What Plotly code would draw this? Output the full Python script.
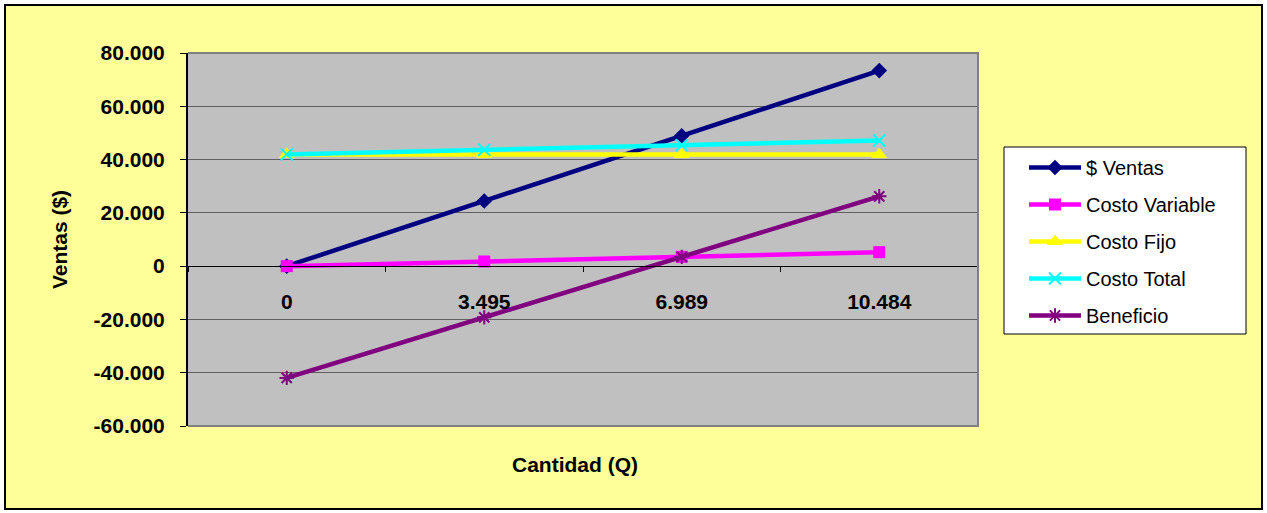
import plotly.graph_objects as go

# ---- data ----
categories = ["0", "3.495", "6.989", "10.484"]
ventas = [0, 24465, 48923, 73388]
costo_variable = [0, 1747, 3494, 5242]
costo_fijo = [41940, 41940, 41940, 41940]
costo_total = [41940, 43687, 45434, 47182]
beneficio = [-41940, -19222, 3489, 26206]

y_tick_vals = [-60000, -40000, -20000, 0, 20000, 40000, 60000, 80000]
y_tick_text = ["-60.000", "-40.000", "-20.000", "0", "20.000", "40.000", "60.000", "80.000"]

series = [
    ("$ Ventas", ventas, "#000080", "diamond", 12),
    ("Costo Variable", costo_variable, "#FF00FF", "square", 12),
    ("Costo Fijo", costo_fijo, "#FFFF00", "triangle-up", 14),
    ("Costo Total", costo_total, "#00FFFF", "x-thin-open", 12),
    ("Beneficio", beneficio, "#800080", "asterisk-open", 12),
]

FONT = "Liberation Sans, Arial, sans-serif"

fig = go.Figure()
for i, (name, vals, color, sym, msize) in enumerate(series):
    marker = dict(symbol=sym, size=msize, color=color)
    if sym.endswith("-open"):
        marker["line"] = dict(color=color, width=2)
    fig.add_trace(go.Scatter(
        x=categories, y=vals, name=name, mode="lines+markers",
        line=dict(color=color, width=4.5), marker=marker,
        legendgroup=f"g{i}",
    ))

W, H = 1267, 513
L, R, T, B = 188, 978, 53, 426
pw, ph = R - L, B - T

def px(x):
    return (x - L) / pw

def py(y):
    return (B - y) / ph

fig.update_layout(
    width=W, height=H,
    margin=dict(l=L, r=W - R, t=T, b=H - B, pad=0),
    paper_bgcolor="white",
    plot_bgcolor="#C0C0C0",
    font=dict(family=FONT, color="black", size=21),
    separators=",.",
    showlegend=True,
    legend=dict(
        x=px(1024), y=py(148), xanchor="left", yanchor="top",
        bgcolor="rgba(0,0,0,0)", borderwidth=0,
        font=dict(family=FONT, size=20, color="black"),
        tracegroupgap=8, itemwidth=52,
    ),
    xaxis=dict(
        type="category", range=[-0.5, 3.5],
        anchor="free", position=3 / 7,
        showline=True, linecolor="black", linewidth=1,
        ticks="outside", ticklen=5, tickcolor="black", tickson="boundaries",
        showgrid=False, zeroline=False,
        tickfont=dict(family=FONT, size=21, color="black", weight="bold"),
        ticklabelstandoff=17,
    ),
    yaxis=dict(
        range=[-60000, 80000],
        tickvals=y_tick_vals, ticktext=y_tick_text,
        showline=True, linecolor="black", linewidth=2,
        ticks="outside", ticklen=6, tickcolor="black",
        showgrid=True, gridcolor="#606060", gridwidth=1,
        zeroline=True, zerolinecolor="black", zerolinewidth=1,
        tickfont=dict(family=FONT, size=21, color="black", weight="bold"),
        ticklabelstandoff=11,
        title=dict(text="<b>Ventas ($)</b>", standoff=20,
                   font=dict(family=FONT, size=21, color="black")),
    ),
    shapes=[
        dict(type="rect", xref="paper", yref="paper",
             x0=px(5), x1=px(1262), y0=py(509), y1=py(5),
             fillcolor="#FFFF99", line=dict(color="black", width=2),
             layer="below"),
        dict(type="rect", xref="paper", yref="paper",
             x0=0, x1=1, y0=0, y1=1,
             fillcolor="#C0C0C0", line=dict(width=0),
             layer="below"),
        dict(type="rect", xref="paper", yref="paper",
             x0=px(1004), x1=px(1246), y0=py(334), y1=py(147),
             fillcolor="white", line=dict(color="black", width=1),
             layer="below"),
        dict(type="path", xref="paper", yref="paper",
             path="M 0 1 L 1 1 L 1 0 L 0 0",
             line=dict(color="#808080", width=2), layer="above"),
    ],
    annotations=[
        dict(text="<b>Cantidad (Q)</b>", xref="paper", yref="paper",
             x=px(575), y=py(464), showarrow=False,
             xanchor="center", yanchor="middle",
             font=dict(family=FONT, size=21, color="black")),
    ],
)

fig.write_html("out.html", config={"displayModeBar": False},
               post_script="document.body.style.margin='0';document.body.style.overflow='hidden';window.dispatchEvent(new Event('resize'));")
